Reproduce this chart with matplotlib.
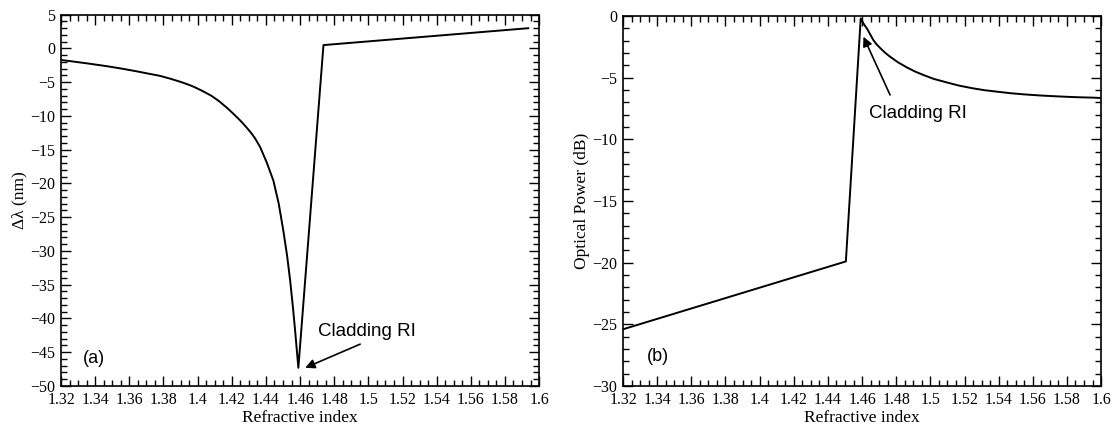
import matplotlib
matplotlib.use('Agg')
import matplotlib.pyplot as plt
from matplotlib.ticker import MultipleLocator, FormatStrFormatter

# (a) wavelength shift vs refractive index
ri_a = [1.320, 1.3275, 1.335, 1.342, 1.3487, 1.357, 1.365, 1.371, 1.378, 1.384, 1.390,
        1.394, 1.3975, 1.4025, 1.408, 1.4125, 1.417, 1.420, 1.4235, 1.426, 1.4288, 1.431,
        1.4336, 1.4366, 1.4405, 1.4444, 1.4475, 1.4502, 1.4524, 1.4542, 1.4558, 1.4571,
        1.4582, 1.4590, 1.4737, 1.5936]
shift_a = [-1.7, -1.95, -2.2, -2.45, -2.7, -3.05, -3.42, -3.72, -4.06, -4.48, -4.95,
           -5.3, -5.65, -6.25, -7.0, -7.8, -8.75, -9.45, -10.3, -10.95, -11.75, -12.4,
           -13.3, -14.6, -16.9, -19.6, -23.0, -27.0, -30.7, -34.4, -38.3, -41.8,
           -45.0, -47.3, 0.5, 3.0]

# (b) optical power vs refractive index
ri_b = [1.320, 1.4505, 1.4592, 1.4610, 1.4630, 1.4648, 1.4666, 1.4685, 1.4710, 1.4735,
        1.4764, 1.481, 1.4860, 1.491, 1.4959, 1.502, 1.5100, 1.517, 1.5252, 1.532,
        1.5400, 1.547, 1.5545, 1.565, 1.5750, 1.585, 1.5955, 1.600]
power_b = [-25.4, -19.9, -0.2, -0.65, -1.05, -1.5, -1.95, -2.3, -2.65, -2.98,
           -3.3, -3.75, -4.15, -4.5, -4.78, -5.1, -5.40, -5.65, -5.87, -6.02,
           -6.15, -6.26, -6.35, -6.45, -6.52, -6.58, -6.62, -6.65]

serif = ['Liberation Serif', 'DejaVu Serif']
sans = ['Liberation Sans', 'DejaVu Sans']

fig = plt.figure(figsize=(11.12, 4.34), dpi=100)
ax1 = fig.add_axes([0.0549, 0.1106, 0.4299, 0.8555])
ax2 = fig.add_axes([0.5603, 0.1106, 0.4299, 0.8525])

def style(ax, ymin, ymax):
    ax.set_xlim(1.32, 1.6)
    ax.set_ylim(ymin, ymax)
    ax.xaxis.set_major_locator(MultipleLocator(0.02))
    ax.xaxis.set_minor_locator(MultipleLocator(0.005))
    ax.yaxis.set_major_locator(MultipleLocator(5))
    ax.yaxis.set_minor_locator(MultipleLocator(1))
    ax.xaxis.set_major_formatter(FormatStrFormatter('%g'))
    ax.tick_params(which='both', direction='in', top=True, right=True, width=1.0)
    ax.tick_params(which='major', length=7.5, labelsize=11.5, pad=4)
    ax.tick_params(which='minor', length=4)
    for lab in ax.get_xticklabels() + ax.get_yticklabels():
        lab.set_family(serif)
    for s in ax.spines.values():
        s.set_linewidth(1.2)
    ax.set_xlabel('Refractive index', family=serif, fontsize=12.5, labelpad=2)

def callout(ax, tip, tail, text_xy):
    ax.annotate('', xy=tip, xytext=tail,
                arrowprops=dict(arrowstyle='-|>', color='black', lw=1.2,
                                shrinkA=0, shrinkB=0, mutation_scale=14))
    ax.text(text_xy[0], text_xy[1], 'Cladding RI', family=sans, fontsize=13.5,
            ha='center', va='center')

ax1.plot(ri_a, shift_a, color='black', lw=1.4)
style(ax1, -50, 5)
ax1.set_ylabel('Δλ (nm)', family=serif, fontsize=12.5, labelpad=2)
ax1.text(1.333, -46, '(a)', family=sans, fontsize=13, va='center', ha='left')
callout(ax1, (1.463, -47.3), (1.4952, -43.8), (1.499, -41.9))

ax2.plot(ri_b, power_b, color='black', lw=1.4)
style(ax2, -30, 0)
ax2.set_ylabel('Optical Power (dB)', family=serif, fontsize=12.5, labelpad=2)
ax2.text(1.334, -27.6, '(b)', family=sans, fontsize=13, va='center', ha='left')
callout(ax2, (1.4608, -1.68), (1.4764, -6.4), (1.4925, -7.9))

fig.savefig('out.png', dpi=100)
